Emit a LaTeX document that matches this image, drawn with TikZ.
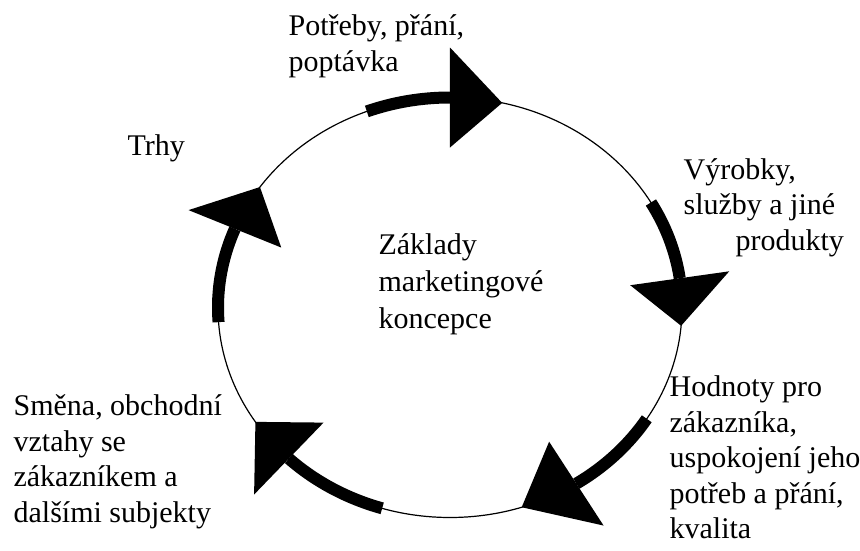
\documentclass[tikz,border=0pt]{standalone}
\usepackage{fontspec}
\setmainfont{Liberation Serif}
\begin{document}
\begin{tikzpicture}[x=1pt,y=1pt,line width=1.2pt,
  lbl/.style={align=left,inner sep=0pt,anchor=base west,font=\fontsize{30}{35.5}\selectfont},
  band/.style={line width=12pt}]
\useasboundingbox (-450,-242.5) rectangle (410,307.5);
\draw (0,0) ellipse[x radius=232pt,y radius=210pt];
% arrows on the ring: tail / back of head / tip (angles)
\foreach \tail/\back/\tip in {111/90/77, 30/8/-5, -32/-57/-72, -107/-134/-147, 184/158/145}{
  \draw[band] (\tail:232pt and 210pt) arc[start angle=\tail,end angle=\back,x radius=232pt,y radius=210pt];
  \fill (\tip:232pt and 210pt) -- (\back:282pt and 260pt) -- (\back:182pt and 160pt) -- cycle;
}
% labels (base = baseline of the last line)
\node[lbl] (needs) at (-162,236.5) {Potřeby, přání,\\poptávka};
\node[lbl] (markets) at (-323,152.5) {Trhy};
\node[lbl] (products) at (233,57.5) {Výrobky,\\služby a jiné\\\hspace*{52pt}produkty};
\node[lbl,font=\fontsize{30}{37}\selectfont] (concept) at (-72,-20.5) {Základy\\marketingové\\koncepce};
\node[lbl] (value) at (219,-231) {Hodnoty pro\\zákazníka,\\uspokojení jeho\\potřeb a přání,\\kvalita};
\node[lbl] (exchange) at (-437,-214.5) {Směna, obchodní\\vztahy se\\zákazníkem a\\dalšími subjekty};
\end{tikzpicture}
\end{document}
